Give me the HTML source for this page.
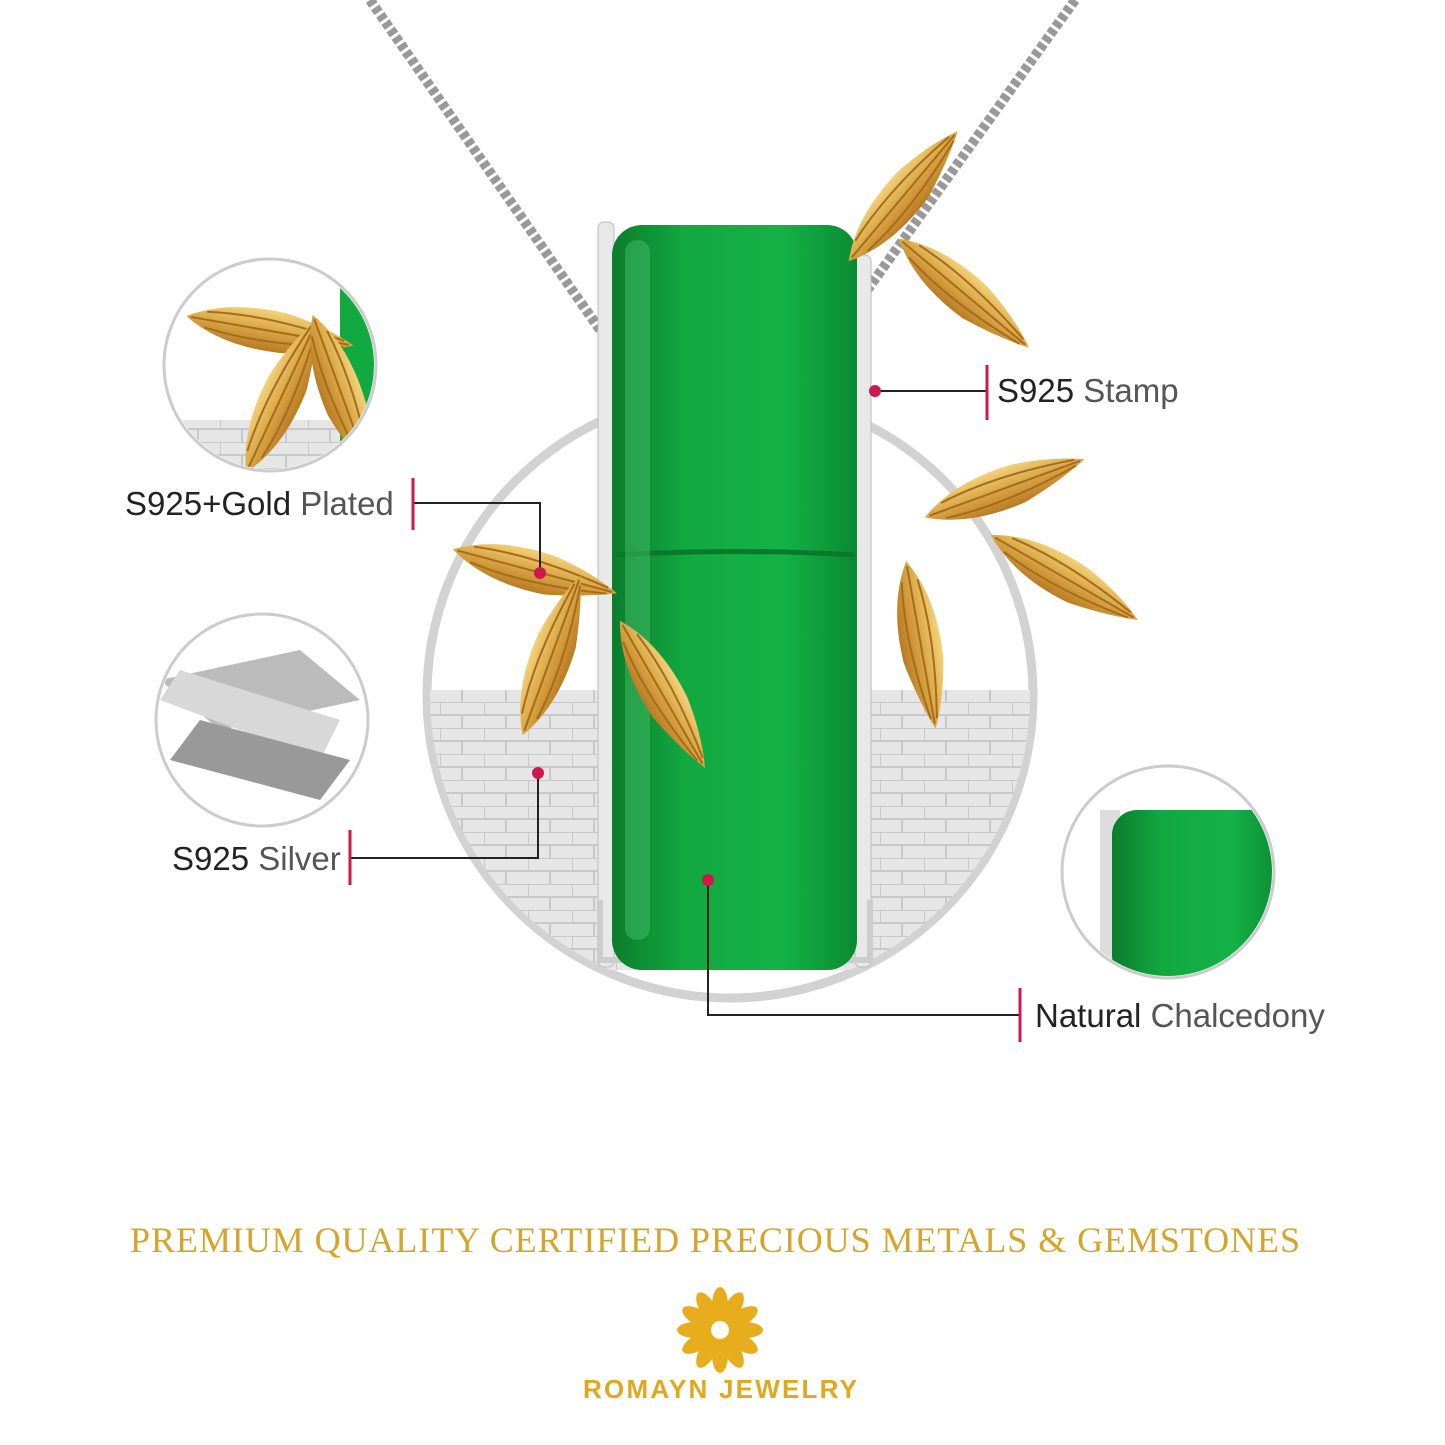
<!DOCTYPE html>
<html><head><meta charset="utf-8"><style>
html,body{margin:0;padding:0;background:#fff;}
svg{display:block}
</style></head><body>
<svg width="1445" height="1445" viewBox="0 0 1445 1445" xmlns="http://www.w3.org/2000/svg">
<defs>
<linearGradient id="g" x1="0" x2="1" y1="0" y2="0">
<stop offset="0" stop-color="#0b7d2c"/><stop offset="0.3" stop-color="#12a940"/><stop offset="0.7" stop-color="#14b246"/><stop offset="1" stop-color="#0a8a31"/></linearGradient>
<linearGradient id="gold" x1="0" x2="0" y1="0" y2="1"><stop offset="0" stop-color="#f3d27a"/><stop offset="0.5" stop-color="#d9a545"/><stop offset="1" stop-color="#b97a22"/></linearGradient>
<pattern id="brick" width="44" height="26" patternUnits="userSpaceOnUse">
<rect width="44" height="26" fill="#e6e6e6"/><path d="M0 0H44M0 13H44M0 0V13M22 13V26" stroke="#c8c8c8" stroke-width="2"/></pattern>
<clipPath id="bc"><circle cx="730" cy="695" r="300"/></clipPath>
<clipPath id="c1"><circle cx="270" cy="365" r="104"/></clipPath>
<clipPath id="c2"><circle cx="262" cy="720" r="104"/></clipPath>
<clipPath id="c3"><circle cx="1168" cy="872" r="104"/></clipPath>
<g id="leaf"><path d="M-80 0 Q-40 -24 20 -20 Q60 -14 90 0 Q60 12 20 20 Q-40 24 -80 0Z" fill="url(#gold)"/><path d="M-75 0H85M-60 -8Q0 -16 80 -3M-60 8Q0 16 80 3" stroke="#a66c1a" stroke-width="2" fill="none"/></g>
</defs>
<path d="M370 0 L600 330" stroke="#999" stroke-width="10" stroke-dasharray="6 3" fill="none"/>
<path d="M1075 0 L860 300" stroke="#999" stroke-width="10" stroke-dasharray="6 3" fill="none"/>
<circle cx="730" cy="695" r="303" fill="#fff" stroke="#d2d2d2" stroke-width="9"/>
<rect x="420" y="690" width="620" height="280" fill="url(#brick)" clip-path="url(#bc)"/>
<rect x="598" y="222" width="16" height="745" rx="6" fill="#e8e8e8" stroke="#bbb"/>
<rect x="855" y="255" width="16" height="712" rx="6" fill="#e8e8e8" stroke="#bbb"/>
<path d="M600 900 L600 960 L870 960 L870 900" stroke="#ccc" stroke-width="6" fill="none"/>
<rect x="612" y="225" width="245" height="745" rx="30" fill="url(#g)"/>
<path d="M615 555 Q735 548 855 555" stroke="#0a7a2a" stroke-width="5" fill="none"/>
<rect x="625" y="240" width="25" height="700" rx="12" fill="#5fd080" opacity="0.35"/>
<g transform="translate(530,570) rotate(15)"><use href="#leaf"/></g>
<g transform="translate(550,660) rotate(-70)"><use href="#leaf"/></g>
<g transform="translate(660,690) rotate(60)"><use href="#leaf"/></g>
<g transform="translate(900,200) rotate(-50)"><use href="#leaf"/></g>
<g transform="translate(960,290) rotate(40)"><use href="#leaf"/></g>
<g transform="translate(1000,490) rotate(-20)"><use href="#leaf"/></g>
<g transform="translate(920,640) rotate(80)"><use href="#leaf"/></g>
<g transform="translate(1060,575) rotate(30)"><use href="#leaf"/></g>
<circle cx="270" cy="365" r="106" fill="#fff" stroke="#ccc" stroke-width="3"/>
<g clip-path="url(#c1)"><rect x="160" y="420" width="230" height="60" fill="url(#brick)"/><rect x="340" y="250" width="40" height="200" fill="#12a940"/>
<g transform="translate(265,330) rotate(10)"><use href="#leaf"/></g><g transform="translate(280,400) rotate(-65)"><use href="#leaf"/></g><g transform="translate(340,390) rotate(70)"><use href="#leaf"/></g></g>
<circle cx="262" cy="720" r="106" fill="#fff" stroke="#ccc" stroke-width="3"/>
<g clip-path="url(#c2)"><polygon points="160,680 300,650 360,700 220,730" fill="#bbb"/><polygon points="160,700 320,760 340,720 180,670" fill="#d8d8d8"/><polygon points="170,760 320,800 350,760 200,720" fill="#999"/></g>
<circle cx="1168" cy="872" r="106" fill="#fff" stroke="#ccc" stroke-width="3"/>
<g clip-path="url(#c3)"><rect x="1100" y="810" width="20" height="180" fill="#ddd"/><rect x="1112" y="810" width="170" height="170" rx="25" fill="url(#g)"/></g>
<g stroke="#222" stroke-width="2" fill="none">
<path d="M875 391 H987"/><path d="M413 503 H540 V573"/><path d="M350 858 H538 V773"/><path d="M708 880 V1015 H1020"/></g>
<g stroke="#d0184d" stroke-width="3">
<path d="M987 365 V420"/><path d="M413 478 V530"/><path d="M350 830 V885"/><path d="M1020 988 V1042"/></g>
<g fill="#d0184d"><circle cx="875" cy="391" r="6"/><circle cx="540" cy="573" r="6"/><circle cx="538" cy="773" r="6"/><circle cx="708" cy="880" r="6"/></g>
<g font-family="Liberation Sans, sans-serif" font-size="33" fill="#222">
<text x="997" y="402">S925 <tspan fill="#555">Stamp</tspan></text>
<text x="125" y="515">S925+Gold <tspan fill="#555">Plated</tspan></text>
<text x="172" y="870">S925 <tspan fill="#555">Silver</tspan></text>
<text x="1035" y="1027">Natural <tspan fill="#555">Chalcedony</tspan></text>
</g>
<text x="715" y="1252" text-anchor="middle" font-family="Liberation Serif, serif" font-size="36" fill="#d4a52a" textLength="1170">PREMIUM QUALITY CERTIFIED PRECIOUS METALS &amp; GEMSTONES</text>
<g transform="translate(720,1330)" fill="#e8ad1c">
<g id="pet"><ellipse cx="0" cy="-25" rx="8" ry="18"/></g>
<use href="#pet" transform="rotate(30)"/><use href="#pet" transform="rotate(60)"/><use href="#pet" transform="rotate(90)"/><use href="#pet" transform="rotate(120)"/><use href="#pet" transform="rotate(150)"/><use href="#pet" transform="rotate(180)"/><use href="#pet" transform="rotate(210)"/><use href="#pet" transform="rotate(240)"/><use href="#pet" transform="rotate(270)"/><use href="#pet" transform="rotate(300)"/><use href="#pet" transform="rotate(330)"/>
<circle r="9" fill="#fff"/>
</g>
<text x="720" y="1398" text-anchor="middle" font-family="Liberation Sans, sans-serif" font-weight="bold" font-size="26" fill="#e0a820" textLength="274">ROMAYN JEWELRY</text>
</svg>
</body></html>
